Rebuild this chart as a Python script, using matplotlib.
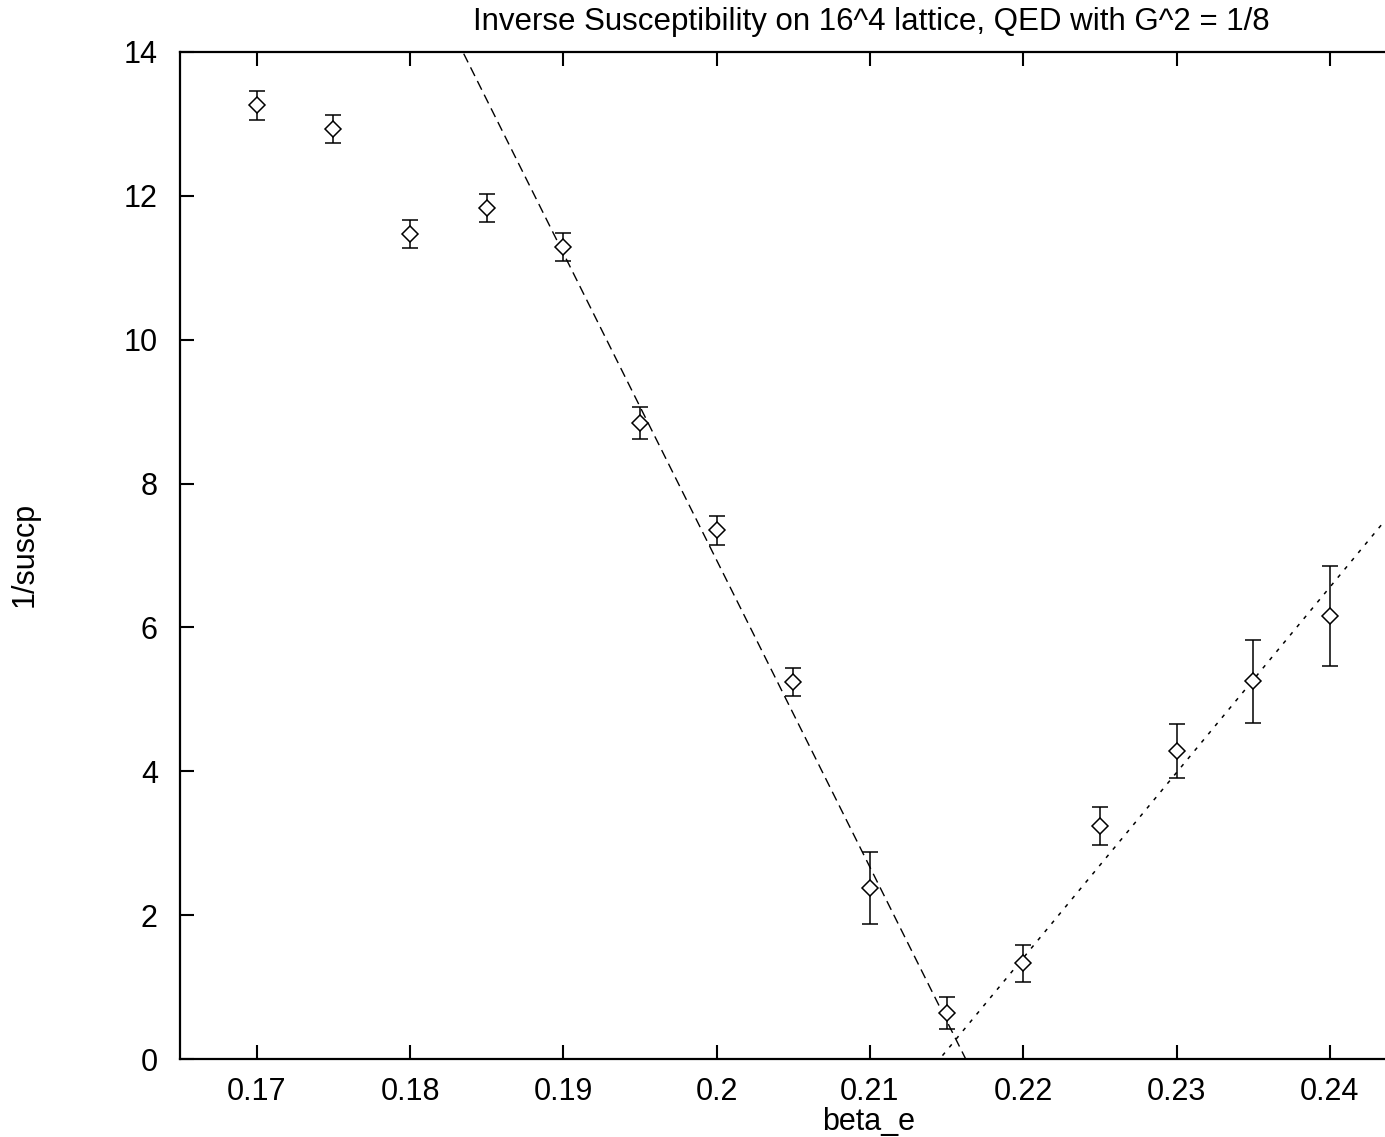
import numpy as np
from matplotlib import pyplot as plt

plt.rcParams['font.family'] = ['Liberation Sans', 'DejaVu Sans']

# data
beta = [0.17, 0.175, 0.18, 0.185, 0.19, 0.195, 0.2, 0.205, 0.21, 0.215,
        0.22, 0.225, 0.23, 0.235, 0.24]
inv_suscp = [13.26, 12.93, 11.47, 11.83, 11.29, 8.84, 7.35, 5.24, 2.38, 0.64,
             1.33, 3.24, 4.28, 5.25, 6.16]
err = [0.2, 0.2, 0.2, 0.2, 0.2, 0.22, 0.2, 0.2, 0.5, 0.22,
       0.26, 0.27, 0.38, 0.58, 0.69]

# linear fits: y = slope * (x - x0)
fit1_x0, fit1_slope = 0.21625, -426.8
fit2_x0, fit2_slope = 0.21455, 257.7

xmin, xmax = 0.165, 0.2436

fig = plt.figure(figsize=(13.85, 11.37), dpi=100)
ax = fig.add_axes([0.13, 0.0686, 0.87, 0.8857])

xx = np.array([xmin, xmax])
ax.plot(xx, fit1_slope * (xx - fit1_x0), color='black', lw=1.0,
        dashes=(7, 4))
ax.plot(xx, fit2_slope * (xx - fit2_x0), color='black', lw=1.1,
        dashes=(2.5, 4.5))

ax.errorbar(beta, inv_suscp, yerr=err, fmt='D', mfc='white', mec='black',
            ms=8, mew=1.1, ecolor='black', elinewidth=1.1, capsize=6,
            capthick=1.1, zorder=3)

ax.set_xlim(xmin, xmax)
ax.set_ylim(0, 14)
ax.set_xticks([0.17, 0.18, 0.19, 0.2, 0.21, 0.22, 0.23, 0.24])
ax.set_xticklabels(['0.17', '0.18', '0.19', '0.2', '0.21', '0.22', '0.23', '0.24'])
ax.set_yticks([0, 2, 4, 6, 8, 10, 12, 14])
ax.tick_params(direction='in', length=10, width=1.5, labelsize=22,
               top=True, right=False)
ax.tick_params(axis='x', pad=13)
ax.tick_params(axis='y', pad=16)
ax.spines['right'].set_visible(False)
for s in ['left', 'top', 'bottom']:
    ax.spines[s].set_linewidth(1.6)

fig.text(0.629, 0.981, 'Inverse Susceptibility on 16^4 lattice, QED with G^2 = 1/8',
         ha='center', va='center', fontsize=22.5)
fig.text(0.627, 0.013, 'beta_e', ha='center', va='center', fontsize=22)
fig.text(0.018, 0.512, '1/suscp', ha='center', va='center', fontsize=22,
         rotation=90)

fig.savefig('out.png', dpi=100)
